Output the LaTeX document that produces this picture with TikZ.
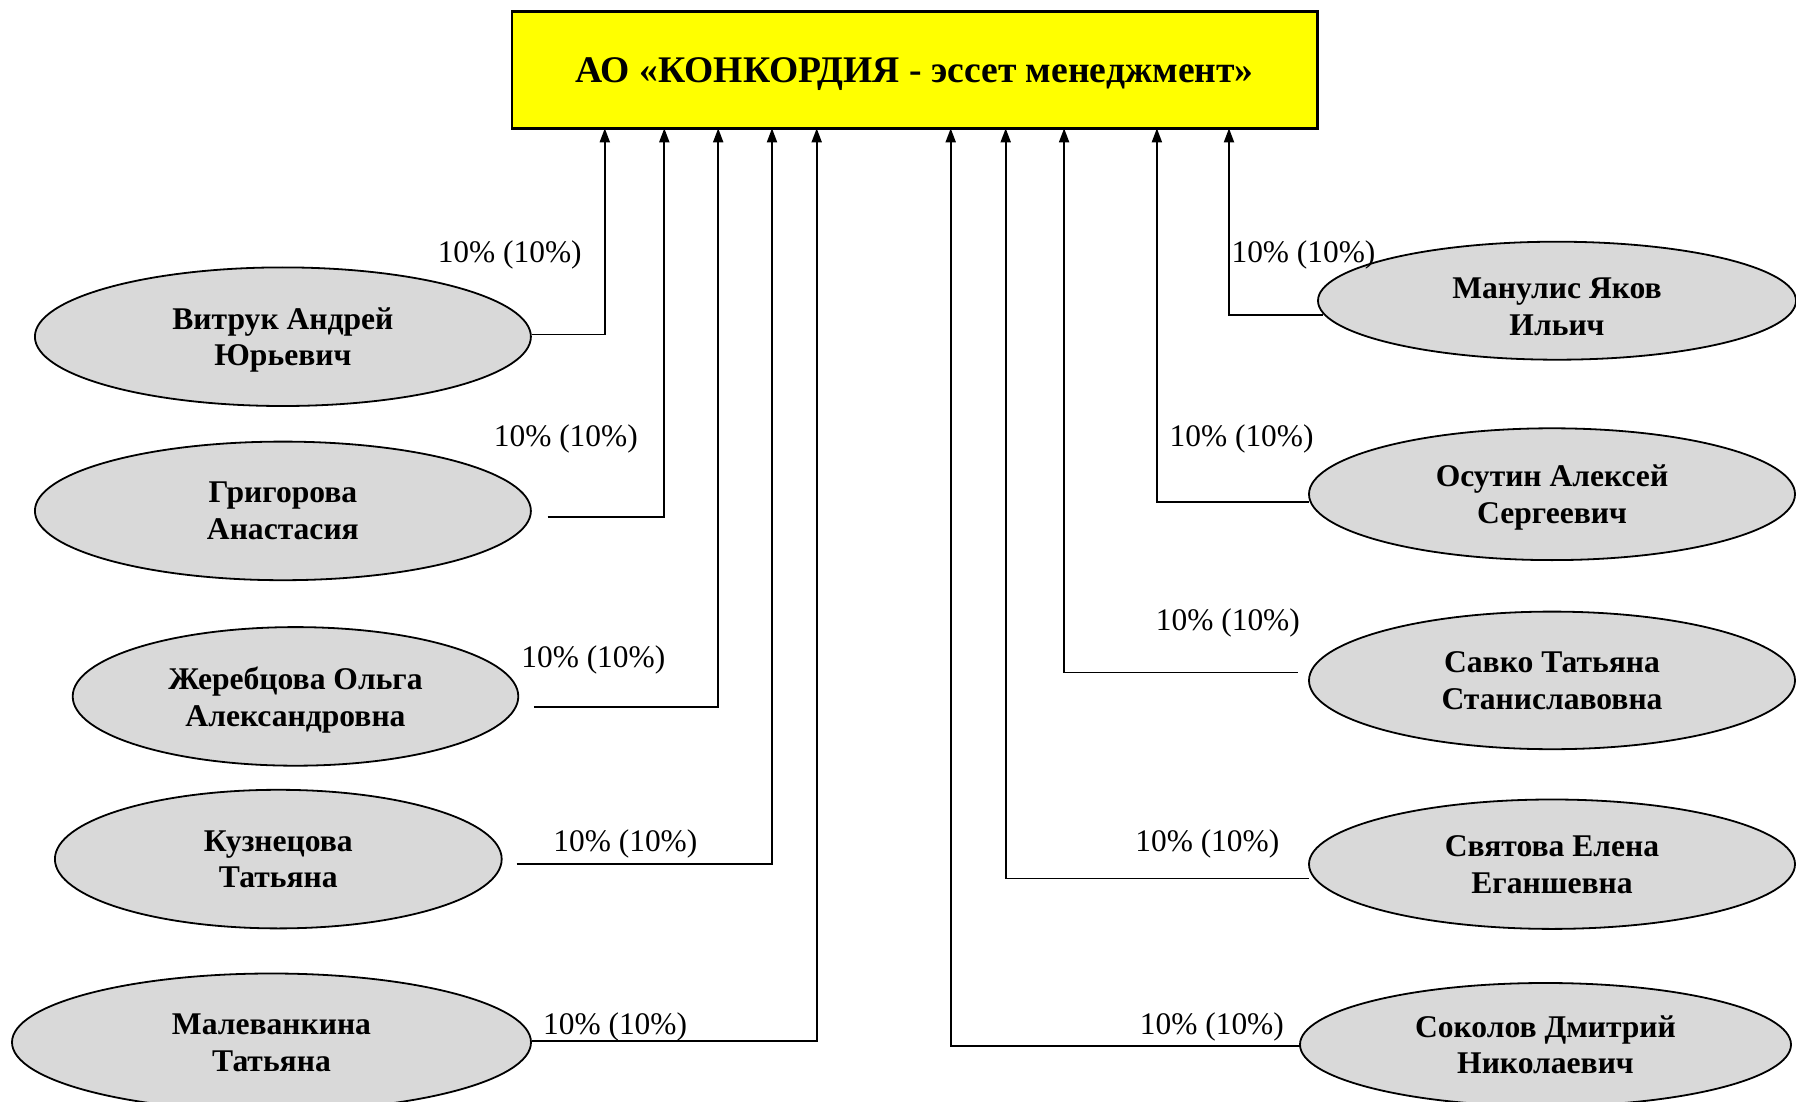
\documentclass[tikz,border=0pt]{standalone}
\usepackage{fontspec}
\setmainfont{Liberation Serif}
\usetikzlibrary{arrows.meta,shapes.geometric}
\definecolor{ovalgray}{HTML}{D9D9D9}
\definecolor{boxyellow}{HTML}{FFFF00}

\begin{document}
\begin{tikzpicture}[x=0.5pt,y=-0.5pt,
    person/.style={draw,ellipse,line width=0.9pt,fill=ovalgray,inner sep=0pt,text depth=0pt,align=center,font=\bfseries\fontsize{15.8}{18.4}\selectfont},
    share/.style={inner sep=0pt,text depth=0pt,font=\fontsize{15.7}{18}\selectfont},
    link/.style={line width=0.9pt,-{Triangle[length=7pt,width=5pt]}}]
    \useasboundingbox (0,0) rectangle (1796,1102);
    \clip (0,0) rectangle (1796,1102);
    % company
    \node[draw,line width=1.4pt,fill=boxyellow,minimum width=402.6pt,minimum height=58.4pt,text depth=0pt,font=\bfseries\fontsize{18.8}{22}\selectfont] (box) at (914.6,69.9) {АО «КОНКОРДИЯ - эссет менеджмент»};
    % left column
    \node[person,minimum width=248pt,minimum height=69.3pt] (vitruk) at (282.9,336.7) {Витрук Андрей\\Юрьевич};
    \node[person,minimum width=248pt,minimum height=69.3pt] (grigorova) at (282.9,510.9) {Григорова\\Анастасия};
    \node[person,minimum width=222.8pt,minimum height=69.3pt] (zherebcova) at (295.5,696.4) {Жеребцова Ольга\\Александровна};
    \node[person,minimum width=223.4pt,minimum height=69.3pt] (kuznecova) at (278.3,859.1) {Кузнецова\\Татьяна};
    \node[person,minimum width=259.5pt,minimum height=68.8pt] (malevankina) at (271.5,1042.3) {Малеванкина\\Татьяна};
    % right column
    \node[person,minimum width=239pt,minimum height=59pt,text height=34.8pt] (manulis) at (1557,300.7) {Манулис Яков\\Ильич};
    \node[person,minimum width=243pt,minimum height=65.9pt] (osutin) at (1552,494.2) {Осутин Алексей\\Сергеевич};
    \node[person,minimum width=243pt,minimum height=68.8pt] (savko) at (1552,680.4) {Савко Татьяна\\Станиславовна};
    \node[person,minimum width=243pt,minimum height=64.7pt] (svyatova) at (1552,864.2) {Святова Елена\\Еганшевна};
    \node[person,minimum width=245.5pt,minimum height=61.6pt] (sokolov) at (1545.5,1044.6) {Соколов Дмитрий\\Николаевич};
    % shares
    \node[share] (s-vitruk) at (509.7,252) {10\% (10\%)};
    \node[share] (s-grigorova) at (565.8,435.3) {10\% (10\%)};
    \node[share] (s-zherebcova) at (593.3,656.3) {10\% (10\%)};
    \node[share] (s-kuznecova) at (625.4,840.7) {10\% (10\%)};
    \node[share] (s-malevankina) at (615.1,1024) {10\% (10\%)};
    \node[share] (s-manulis) at (1303.5,252) {10\% (10\%)};
    \node[share] (s-osutin) at (1241.6,435.3) {10\% (10\%)};
    \node[share] (s-savko) at (1227.9,619.7) {10\% (10\%)};
    \node[share] (s-svyatova) at (1207.3,840.7) {10\% (10\%)};
    \node[share] (s-sokolov) at (1211.9,1024) {10\% (10\%)};
    % links to the company
    \foreach \who/\ox/\oy/\ix in {vitruk/531.5/334.5/604.8, grigorova/547.5/516.6/664.3, zherebcova/533.8/706.7/718.2, kuznecova/516.6/863.6/772, malevankina/531.5/1041.2/816.7, manulis/1323/315/1229, osutin/1309.2/501.7/1156.9, savko/1297.8/672.4/1064.1, svyatova/1309.2/878.5/1005.7, sokolov/1300/1045.8/950.7}{
        \coordinate (\who-out) at (\ox,\oy);
        \coordinate (\who-in) at (\ix,128.3);
        \draw[link] (\who-out) -| (\who-in);
    }
\end{tikzpicture}
\end{document}
